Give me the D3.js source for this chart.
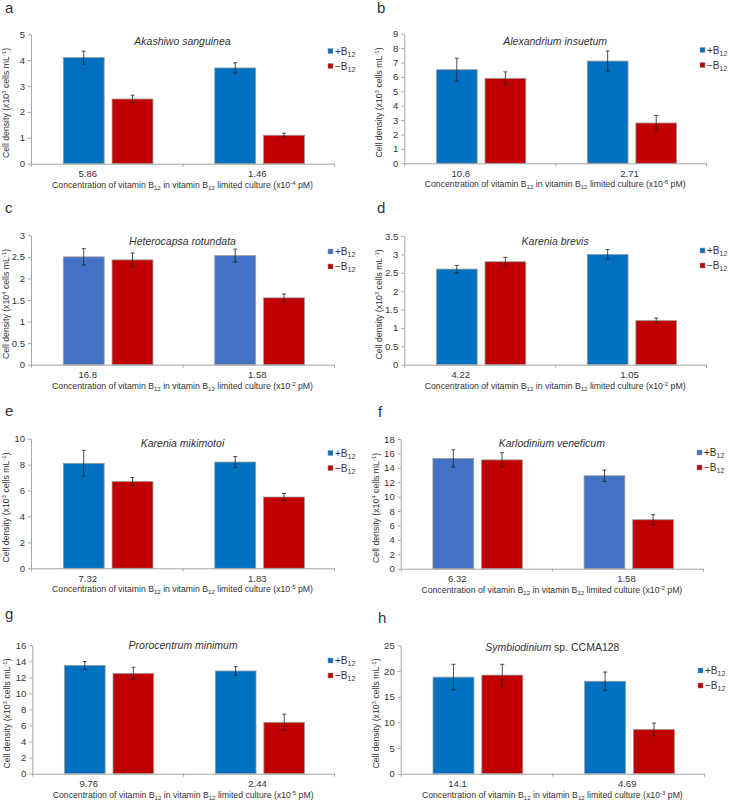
<!DOCTYPE html>
<html>
<head>
<meta charset="utf-8">
<script src="https://cdn.jsdelivr.net/npm/d3@7"></script>
<style>
  body { margin: 0; background: #fff; }
  svg { display: block; }
  text { font-family: "Liberation Sans", Arial, sans-serif; fill: #333; }
</style>
</head>
<body>
<svg id="chart" width="729" height="800"></svg>
<script>
// ---- data ----
const panelLetters = ["a", "b", "c", "d", "e", "f", "g", "h"];
const species = ["Akashiwo sanguinea", "Alexandrium insuetum", "Heterocapsa rotundata", "Karenia brevis",
  "Karenia mikimotoi", "Karlodinium veneficum", "Prorocentrum minimum", "Symbiodinium"];
const concLabels = [["5.86", "1.46"], ["10.8", "2.71"], ["16.8", "1.58"], ["4.22", "1.05"],
  ["7.32", "1.83"], ["6.32", "1.58"], ["9.76", "2.44"], ["14.1", "4.69"]];
const concExp = ["-4", "-6", "-2", "-2", "-5", "-2", "-5", "-3"];
const densityExp = ["3", "3", "4", "3", "3", "4", "3", "3"];

const plusB12 = [[4.1, 3.7], [6.5, 7.1], [2.5, 2.53], [2.6, 3.0], [8.1, 8.2], [15.3, 12.9], [13.5, 12.8], [18.8, 18.0]];
const plusErr = [[0.25, 0.2], [0.8, 0.7], [0.19, 0.15], [0.1, 0.13], [1.0, 0.42], [1.2, 0.8], [0.48, 0.54], [2.5, 1.8]];
const minusB12 = [[2.5, 1.1], [5.9, 2.8], [2.43, 1.55], [2.8, 1.2], [6.7, 5.5], [15.1, 6.8], [12.5, 6.4], [19.2, 8.6]];
const minusErr = [[0.15, 0.08], [0.45, 0.52], [0.16, 0.09], [0.12, 0.07], [0.3, 0.27], [1.0, 0.7], [0.77, 1.02], [2.1, 1.25]];

const yMax = [5, 9, 3, 3.5, 10, 18, 16, 25];
const yStep = [1, 1, 0.5, 0.5, 2, 2, 2, 5];

// ---- layout / style per panel ----
const layout = [
  { x0: 31,    x1: 334, top: 34.3,  bottom: 163.7, titleY: 44.5, legY: 51,    lx: 5,   ly: 13 },
  { x0: 404.3, x1: 706, top: 33.7,  bottom: 163.3, titleY: 44.5, legY: 50,    lx: 377, ly: 13 },
  { x0: 31,    x1: 334, top: 235.3, bottom: 364.7, titleY: 244.5, legY: 251.5, lx: 5,  ly: 213 },
  { x0: 404.3, x1: 706, top: 236,   bottom: 364.7, titleY: 244.5, legY: 250.5, lx: 377, ly: 213 },
  { x0: 31,    x1: 334, top: 438.7, bottom: 568.3, titleY: 447,  legY: 453,   lx: 5,   ly: 416 },
  { x0: 400.7, x1: 703, top: 439,   bottom: 568.7, titleY: 447,  legY: 452.5, lx: 378, ly: 417 },
  { x0: 32.3,  x1: 334, top: 645.3, bottom: 773.7, titleY: 649,  legY: 660.5, lx: 5,   ly: 619 },
  { x0: 400.7, x1: 704, top: 645.3, bottom: 773.7, titleY: 651,  legY: 670.5, lx: 378, ly: 623 }
];
// the first category label sits left of its group in the original figure
const catShift = [-19, -1];
const blueDark = "#0070C0", blueLight = "#4472C4", red = "#C00000";
const plusColor = [blueDark, blueDark, blueLight, blueDark, blueDark, blueLight, blueDark, blueDark];
const axisColor = "#a6a6a6";

const svg = d3.select("#chart");

function rich(sel, parts, size) {
  parts.forEach(function (p) {
    const ts = sel.append("tspan").text(p.t);
    if (p.sub) ts.attr("baseline-shift", "-25%").attr("font-size", size * 0.7);
    if (p.sup) ts.attr("baseline-shift", "45%").attr("font-size", size * 0.7);
  });
}

panelLetters.forEach(function (letter, i) {
  const L = layout[i];
  const g = svg.append("g");

  const y = d3.scaleLinear().domain([0, yMax[i]]).range([L.bottom, L.top]);
  const x = d3.scaleBand().domain([0, 1]).range([L.x0, L.x1]).padding(0);
  const W = x.bandwidth();
  const inner = d3.scaleBand().domain(["plus", "minus"])
    .range([0.213 * W, 0.805 * W]).paddingInner(0.1615).paddingOuter(0);

  // y axis
  const yAxis = g.append("g").attr("transform", "translate(" + L.x0 + ",0)")
    .call(d3.axisLeft(y).tickValues(d3.range(0, yMax[i] + yStep[i] / 2, yStep[i]))
      .tickSize(3).tickSizeOuter(0).tickPadding(3).tickFormat(function (d) { return +d.toFixed(2); }));
  yAxis.selectAll("path, line").attr("stroke", axisColor);
  yAxis.selectAll("text").attr("font-size", 9.5).attr("fill", "#333")
    .attr("font-family", "Liberation Sans, Arial, sans-serif");

  // bars
  const rows = [];
  [0, 1].forEach(function (c) {
    rows.push({ c: c, s: "plus", v: plusB12[i][c], e: plusErr[i][c], col: plusColor[i] });
    rows.push({ c: c, s: "minus", v: minusB12[i][c], e: minusErr[i][c], col: red });
  });
  g.selectAll("rect.bar").data(rows).join("rect").attr("class", "bar")
    .attr("x", function (d) { return x(d.c) + inner(d.s); })
    .attr("width", inner.bandwidth())
    .attr("y", function (d) { return y(d.v); })
    .attr("height", function (d) { return y(0) - y(d.v); })
    .attr("fill", function (d) { return d.col; })
    .attr("stroke", "#9c9c9c").attr("stroke-width", 0.8);

  // error bars
  const eb = g.selectAll("g.err").data(rows).join("g").attr("class", "err")
    .attr("transform", function (d) { return "translate(" + (x(d.c) + inner(d.s) + inner.bandwidth() / 2) + ",0)"; });
  eb.append("line").attr("y1", function (d) { return y(d.v + d.e); }).attr("y2", function (d) { return y(d.v - d.e); });
  eb.append("line").attr("x1", -2).attr("x2", 2).attr("y1", function (d) { return y(d.v + d.e); }).attr("y2", function (d) { return y(d.v + d.e); });
  eb.append("line").attr("x1", -2).attr("x2", 2).attr("y1", function (d) { return y(d.v - d.e); }).attr("y2", function (d) { return y(d.v - d.e); });
  eb.selectAll("line").attr("stroke", "#222").attr("stroke-width", 0.8);

  // x axis (line with ticks at the group boundaries)
  const xb = d3.scaleLinear().domain([0, 2]).range([L.x0, L.x1]);
  const xAxis = g.append("g").attr("transform", "translate(0," + L.bottom + ")")
    .call(d3.axisBottom(xb).tickValues([0, 1, 2]).tickFormat("").tickSize(3).tickSizeOuter(0));
  xAxis.selectAll("path, line").attr("stroke", axisColor);

  // category labels
  g.selectAll("text.cat").data(concLabels[i]).join("text").attr("class", "cat")
    .attr("x", function (d, k) { return x(k) + W / 2 + catShift[k]; })
    .attr("y", L.bottom + 13.5)
    .attr("text-anchor", "middle").attr("font-size", 9.5)
    .text(function (d) { return d; });

  // x axis title
  const xt = g.append("text").attr("x", (L.x0 + L.x1) / 2).attr("y", L.bottom + 24)
    .attr("text-anchor", "middle").attr("font-size", 8.7);
  rich(xt, [{ t: "Concentration of vitamin B" }, { t: "12", sub: true }, { t: " in vitamin B" }, { t: "12", sub: true },
    { t: " limited culture (x10" }, { t: concExp[i], sup: true }, { t: " pM)" }], 8.7);

  // y axis title
  const yt = g.append("text")
    .attr("transform", "translate(" + (L.x0 - 22) + "," + ((L.top + L.bottom) / 2 + 4) + ") rotate(-90)")
    .attr("text-anchor", "middle").attr("font-size", 8.7);
  rich(yt, [{ t: "Cell density (x10" }, { t: densityExp[i], sup: true }, { t: " cells mL" }, { t: "-1", sup: true }, { t: ")" }], 8.7);

  // panel title
  const tt = g.append("text").attr("x", (L.x0 + L.x1) / 2).attr("y", L.titleY)
    .attr("text-anchor", "middle").attr("font-size", 10.5);
  tt.append("tspan").attr("font-style", "italic").text(species[i]);
  if (letter === "h") tt.append("tspan").text(" sp. CCMA128");

  // legend
  const leg = g.selectAll("g.leg").data([{ s: "+", col: plusColor[i] }, { s: "\u2212", col: red }]).join("g").attr("class", "leg")
    .attr("transform", function (d, k) { return "translate(" + L.x1 + "," + (L.legY + k * 15) + ")"; });
  leg.append("rect").attr("x", -6).attr("y", -2.5).attr("width", 5).attr("height", 5)
    .attr("fill", function (d) { return d.col; }).attr("stroke", "#9c9c9c").attr("stroke-width", 0.5);
  leg.each(function (d) {
    const t = d3.select(this).append("text").attr("x", 1).attr("y", 3.5).attr("font-size", 10);
    rich(t, [{ t: d.s + "B" }, { t: "12", sub: true }], 10);
  });

  // panel letter
  g.append("text").attr("x", L.lx).attr("y", L.ly).attr("font-size", 15).attr("fill", "#111").text(letter);
});
</script>
</body>
</html>
